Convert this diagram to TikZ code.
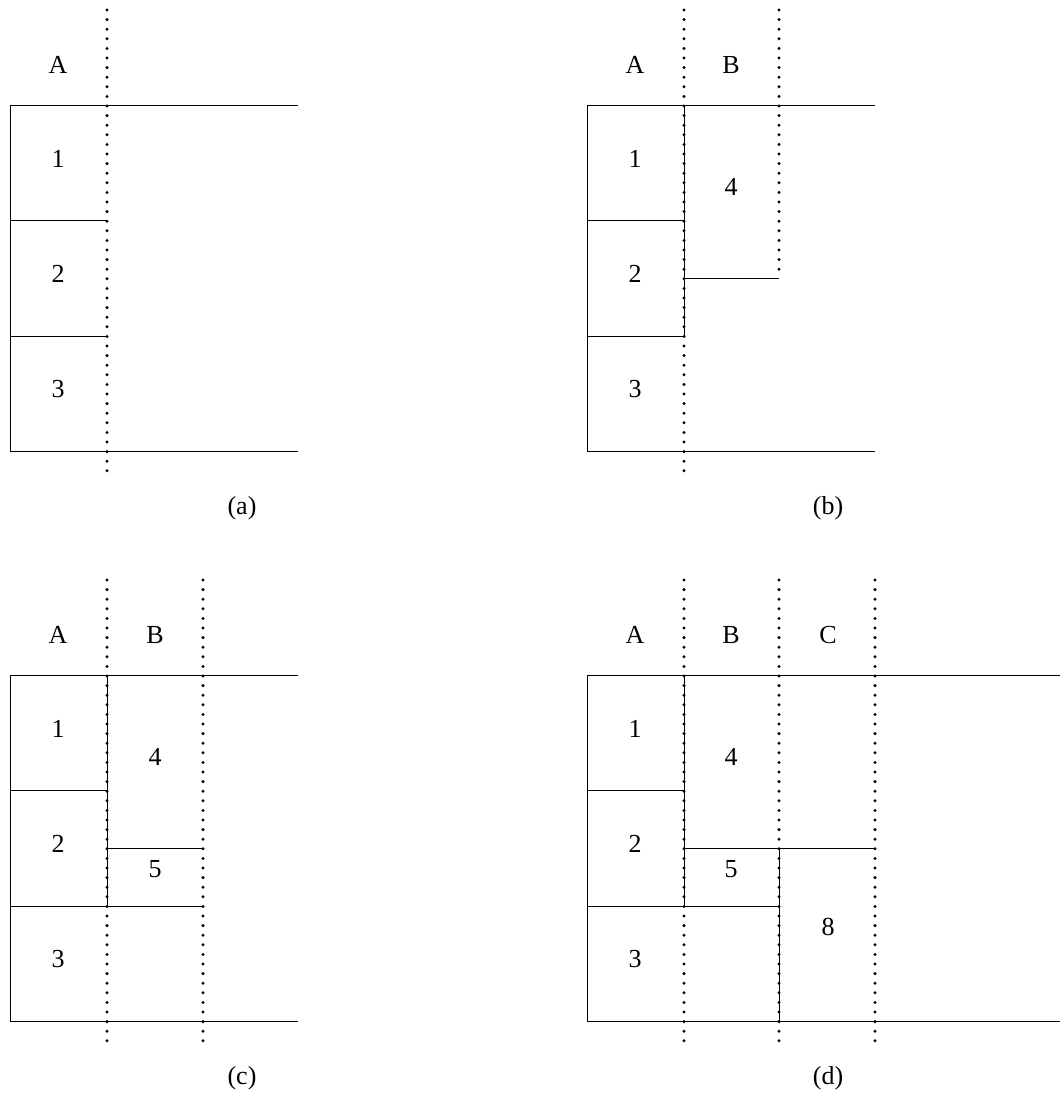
\documentclass[tikz,border=0pt]{standalone}
\usepackage{fontspec}
\setmainfont{Liberation Serif}
\begin{document}
\begin{tikzpicture}[x=1pt,y=-1pt,
  solidline/.style={line width=1pt},
  dotline/.style={line width=3.3pt,dash pattern=on 0pt off 9.6pt,line cap=round},
  lbl/.style={inner sep=0pt,font=\fontsize{26}{30}\selectfont,yshift=3pt},
  captext/.style={inner sep=0pt,font=\fontsize{26}{30}\selectfont}]
\useasboundingbox (0,0) rectangle (1060,1093);
% ---------- (a)
\draw[solidline] (298,105) -- (10,105) -- (10,451) -- (298,451);
\draw[solidline] (10,220) -- (107,220);
\draw[solidline] (10,336) -- (107,336);
\draw[dotline] (107,10) -- (107,475);
\node[lbl] (aA) at (58,68) {A};
\node[lbl] (a1) at (58,162) {1};
\node[lbl] (a2) at (58,277) {2};
\node[lbl] (a3) at (58,392) {3};
\node[captext] (acap) at (242,508) {(a)};
% ---------- (b)
\draw[solidline] (875,105) -- (587,105) -- (587,451) -- (875,451);
\draw[solidline] (587,220) -- (684,220);
\draw[solidline] (587,336) -- (684,336);
\draw[solidline] (684,105) -- (684,336);
\draw[solidline] (684,278) -- (779,278);
\draw[dotline] (684,10) -- (684,475);
\draw[dotline] (779,10) -- (779,278);
\node[lbl] (bA) at (635,68) {A};
\node[lbl] (bB) at (731,68) {B};
\node[lbl] (b1) at (635,162) {1};
\node[lbl] (b2) at (635,277) {2};
\node[lbl] (b3) at (635,392) {3};
\node[lbl] (b4) at (731,190) {4};
\node[captext] (bcap) at (828,508) {(b)};
% ---------- (c)
\draw[solidline] (298,675) -- (10,675) -- (10,1021) -- (298,1021);
\draw[solidline] (10,790) -- (107,790);
\draw[solidline] (10,906) -- (203,906);
\draw[solidline] (107,675) -- (107,906);
\draw[solidline] (107,848) -- (203,848);
\draw[dotline] (107,580) -- (107,1045);
\draw[dotline] (203,580) -- (203,1045);
\node[lbl] (cA) at (58,638) {A};
\node[lbl] (cB) at (155,638) {B};
\node[lbl] (c1) at (58,732) {1};
\node[lbl] (c2) at (58,847) {2};
\node[lbl] (c3) at (58,962) {3};
\node[lbl] (c4) at (155,760) {4};
\node[lbl] (c5) at (155,872) {5};
\node[captext] (ccap) at (242,1078) {(c)};
% ---------- (d)
\draw[solidline] (1060,675) -- (587,675) -- (587,1021) -- (1060,1021);
\draw[solidline] (587,790) -- (684,790);
\draw[solidline] (587,906) -- (779,906);
\draw[solidline] (684,675) -- (684,906);
\draw[solidline] (684,848) -- (875,848);
\draw[solidline] (779,848) -- (779,1021);
\draw[dotline] (684,580) -- (684,1045);
\draw[dotline] (779,580) -- (779,1045);
\draw[dotline] (875,580) -- (875,1045);
\node[lbl] (dA) at (635,638) {A};
\node[lbl] (dB) at (731,638) {B};
\node[lbl] (dC) at (828,638) {C};
\node[lbl] (d1) at (635,732) {1};
\node[lbl] (d2) at (635,847) {2};
\node[lbl] (d3) at (635,962) {3};
\node[lbl] (d4) at (731,760) {4};
\node[lbl] (d5) at (731,872) {5};
\node[lbl] (d8) at (828,930) {8};
\node[captext] (dcap) at (828,1078) {(d)};
\end{tikzpicture}
\end{document}
